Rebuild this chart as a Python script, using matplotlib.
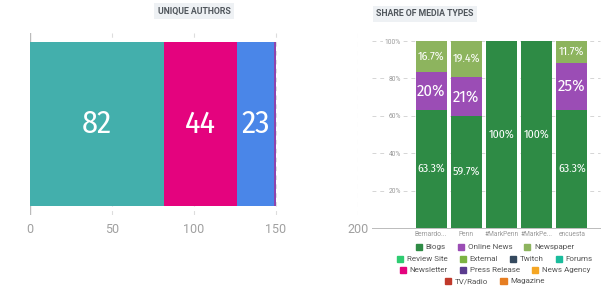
import matplotlib
matplotlib.use("Agg")
import matplotlib.pyplot as plt
from matplotlib.patches import Patch
import numpy as np

# ---- data ----
author_labels = ["Twitter", "News", "Blogs", "Other"]
author_values = [82, 44, 23, 1.2]
author_colors = ["#43AFAC", "#E4037E", "#4A86E8", "#8E44AD"]
author_ticks = [0, 50, 100, 150, 200]

categories = ["Bernardo...", "Penn", "#MarkPenn", "#MarkPe...", "encuesta"]
blogs = [63.3, 59.7, 100, 100, 63.3]
online_news = [20, 21, 0, 0, 25]
newspaper = [16.7, 19.4, 0, 0, 11.7]
share_ticks = [0, 20, 40, 60, 80, 100]

legend_names = ["Blogs", "Online News", "Newspaper", "Review Site", "External", "Twitch",
                "Forums", "Newsletter", "Press Release", "News Agency", "TV/Radio", "Magazine"]
legend_colors = ["#2E8B45", "#9B4DB5", "#8DB45E", "#2ECC71", "#7CB342", "#34495E",
                 "#1ABC9C", "#E4037E", "#5B3C8F", "#F5A623", "#C0392B", "#E67E22"]
legend_rows = [3, 4, 3, 2]

plt.rcParams["font.family"] = ["Roboto", "DejaVu Sans"]
NUM_FONT = ["Fira Sans Condensed", "PT Sans Narrow", "DejaVu Sans"]

W, H = 610, 290
fig = plt.figure(figsize=(W / 100, H / 100), dpi=100)
fig.patch.set_facecolor("white")

def ax_rect(x0, y0, x1, y1):
    return [x0 / W, 1 - y1 / H, (x1 - x0) / W, (y1 - y0) / H]

# ---- left: unique authors ----
ax1 = fig.add_axes(ax_rect(30, 33, 358, 215))
left = 0
for v, c in zip(author_values, author_colors):
    ax1.barh(0, v, left=left, height=0.9, color=c, zorder=3)
    if v > 10:
        ax1.text(left + v / 2, 0, f"{v:g}", color="white", ha="center", va="center",
                 fontsize=23, family=NUM_FONT, fontweight="normal", zorder=4)
    left += v
ax1.set_xlim(0, 200)
ax1.set_ylim(-0.5, 0.5)
ax1.set_yticks([])
ax1.set_xticks(author_ticks)
ax1.tick_params(axis="x", length=0, labelsize=9, labelcolor="#a0a0a0", pad=6)
for s in ax1.spines.values():
    s.set_visible(False)
for t in author_ticks:
    if t == 0:
        ax1.axvline(t, color="#bbbbbb", lw=1, zorder=1)
    else:
        ax1.axvline(t, color="#dddddd", lw=0.8, ls=(0, (4, 4)), zorder=1)
fig.text(194 / W, 1 - 11 / H, "UNIQUE AUTHORS", ha="center", va="center", fontsize=6.3,
         fontweight="bold", color="#50565c",
         bbox=dict(boxstyle="square,pad=0.4", fc="#eef1f4", ec="none"))

# ---- right: share of media types ----
ax2 = fig.add_axes(ax_rect(405, 41, 600, 228))
x = np.arange(len(categories))
ax2.bar(x, blogs, width=0.88, color=legend_colors[0], zorder=3)
ax2.bar(x, online_news, bottom=blogs, width=0.88, color=legend_colors[1], zorder=3)
bot3 = [a + b for a, b in zip(blogs, online_news)]
ax2.bar(x, newspaper, bottom=bot3, width=0.88, color=legend_colors[2], zorder=3)
for i in range(len(categories)):
    ax2.text(x[i], blogs[i] / 2, f"{blogs[i]:g}%",
             color="white", ha="center", va="center", fontsize=8.5,
             family=NUM_FONT, zorder=4)
    if online_news[i] > 0:
        ax2.text(x[i], blogs[i] + online_news[i] / 2, f"{online_news[i]:g}%",
                 color="white", ha="center", va="center", fontsize=12,
                 family=NUM_FONT, zorder=4)
    if newspaper[i] > 0:
        ax2.text(x[i], bot3[i] + newspaper[i] / 2, f"{newspaper[i]:g}%",
                 color="white", ha="center", va="center", fontsize=8.5,
                 family=NUM_FONT, zorder=4)
ax2.set_xlim(-0.74, 4.8)
ax2.set_ylim(0, 100)
ax2.set_yticks(share_ticks)
ax2.set_yticklabels(["" if t == 0 else f"{t}%" for t in share_ticks])
ax2.set_xticks(x)
ax2.set_xticklabels(categories)
ax2.tick_params(axis="y", length=0, labelsize=4.8, labelcolor="#999999", pad=3)
ax2.tick_params(axis="x", length=0, labelsize=4.8, labelcolor="#999999", pad=2)
for lab in ax2.get_yticklabels():
    lab.set_bbox(dict(fc="white", ec="none", pad=1))
    lab.set_zorder(5)
for s in ax2.spines.values():
    s.set_visible(False)
for t in share_ticks:
    ax2.axhline(t, xmin=-0.17, xmax=1.0, color="#d5d5d5" if t else "#bbbbbb", lw=0.7,
                ls=(0, (4, 4)) if t else "-", zorder=1, clip_on=False)
fig.text(425 / W, 1 - 14 / H, "SHARE OF MEDIA TYPES", ha="center", va="center", fontsize=6.3,
         fontweight="bold", color="#50565c",
         bbox=dict(boxstyle="square,pad=0.4", fc="#eef1f4", ec="none"))

# ---- legend rows ----
row_y = [247, 259, 270, 281]
idx = 0
for n, yy in zip(legend_rows, row_y):
    handles = [Patch(color=legend_colors[k]) for k in range(idx, idx + n)]
    labels = legend_names[idx:idx + n]
    idx += n
    leg = fig.legend(handles, labels, loc="center", bbox_to_anchor=(495 / W, 1 - yy / H),
                     ncol=n, frameon=False, fontsize=5.8, handlelength=0.75, handleheight=0.75,
                     handletextpad=0.45, columnspacing=1.5, borderpad=0, borderaxespad=0)
    for t in leg.get_texts():
        t.set_color("#555555")

fig.savefig("out.png", dpi=100, facecolor="white")
